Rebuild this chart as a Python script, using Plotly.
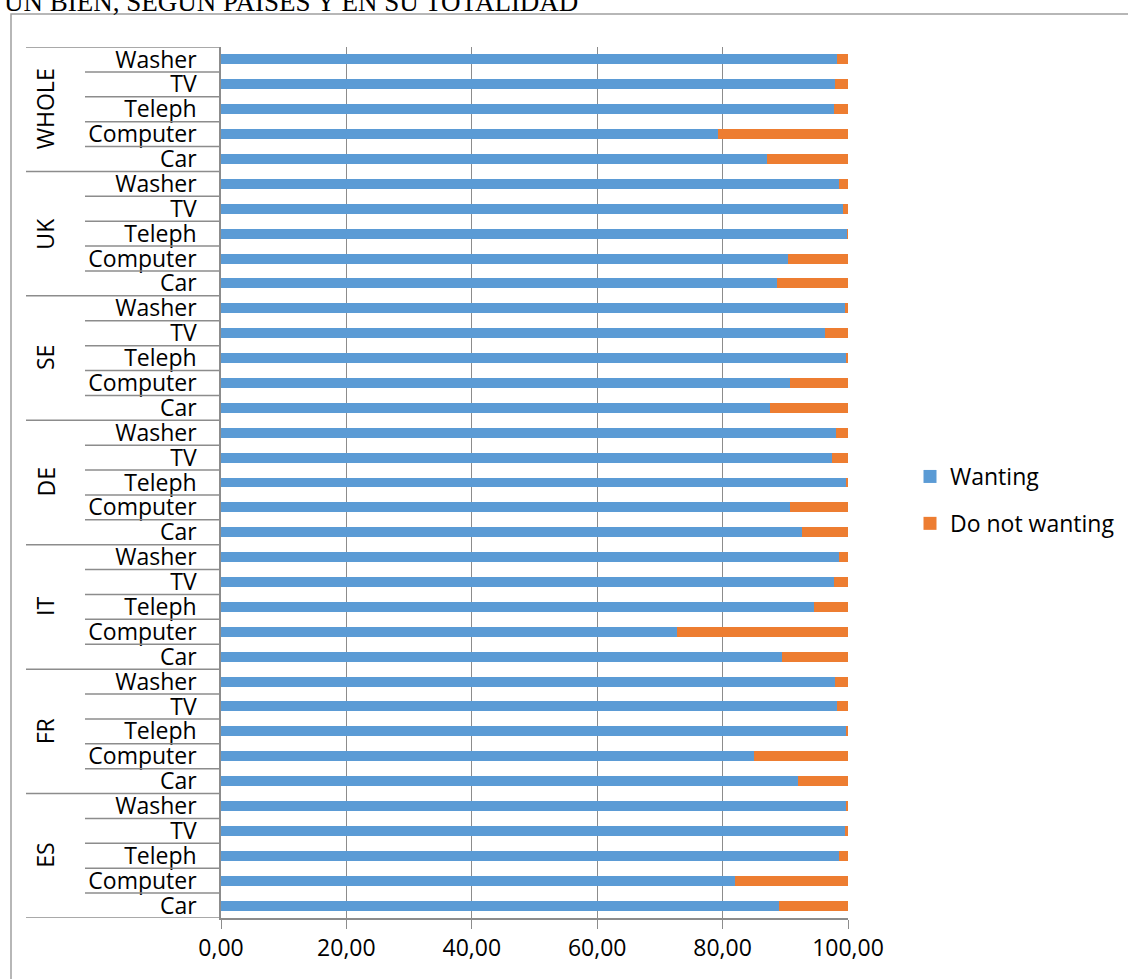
import plotly.graph_objects as go

countries = ["ES", "FR", "IT", "DE", "SE", "UK", "WHOLE"]
products = ["Car", "Computer", "Teleph", "TV", "Washer"]

wanting = {
    "ES":    [89.0, 82.0, 98.6, 99.6, 99.7],
    "FR":    [92.1, 85.0, 99.7, 98.3, 98.0],
    "IT":    [89.5, 72.7, 94.5, 97.8, 98.5],
    "DE":    [92.7, 90.8, 99.8, 97.4, 98.1],
    "SE":    [87.6, 90.8, 99.8, 96.4, 99.5],
    "UK":    [88.7, 90.5, 99.9, 99.2, 98.5],
    "WHOLE": [87.1, 79.2, 97.7, 98.0, 98.3],
}
not_wanting = {
    "ES":    [11.0, 18.0, 1.4, 0.4, 0.3],
    "FR":    [7.9, 15.0, 0.3, 1.7, 2.0],
    "IT":    [10.5, 27.3, 5.5, 2.2, 1.5],
    "DE":    [7.3, 9.2, 0.2, 2.6, 1.9],
    "SE":    [12.4, 9.2, 0.2, 3.6, 0.5],
    "UK":    [11.3, 9.5, 0.1, 0.8, 1.5],
    "WHOLE": [12.9, 20.8, 2.3, 2.0, 1.7],
}
x_ticks = [0, 20, 40, 60, 80, 100]
series_names = ["Wanting", "Do not wanting"]
title_text = "UN BIEN, SEGÚN PAÍSES Y EN SU TOTALIDAD"

W, H = 1128, 979
L, R, T, B = 221, 280, 47, 61
PW, PH = W - L - R, H - T - B


def px(xp):
    return (xp - L) / PW


def py(yp):
    return (H - B - yp) / PH


cats, ticktext, yw, yn = [], [], [], []
for c in countries:
    for i, p in enumerate(products):
        cats.append(f"{c} {p}")
        ticktext.append(p)
        yw.append(wanting[c][i])
        yn.append(not_wanting[c][i])

BLUE = "#5B9BD5"
ORANGE = "#ED7D31"
GRAY = "#8c8c8c"
FONT = "Open Sans"

fig = go.Figure()
fig.add_trace(go.Bar(y=cats, x=yw, orientation="h", name=series_names[0],
                     marker=dict(color=BLUE, line=dict(width=0)), width=0.4,
                     showlegend=False))
fig.add_trace(go.Bar(y=cats, x=yn, orientation="h", name=series_names[1],
                     marker=dict(color=ORANGE, line=dict(width=0)), width=0.4,
                     showlegend=False))
# legend entries with larger square symbols
for name, col, grp in [(series_names[0], BLUE, "a"), (series_names[1], ORANGE, "b")]:
    fig.add_trace(go.Scatter(x=[None], y=[None], mode="markers", name=name,
                             marker=dict(symbol="square", size=13, color=col),
                             legendgroup=grp, showlegend=True))

shapes = []
# chart border
shapes.append(dict(type="rect", xref="paper", yref="paper",
                   x0=px(11), x1=px(W + 20), y0=py(14), y1=py(H + 20),
                   line=dict(color="#a0a0a0", width=1.5), layer="below"))
n = len(cats)
for k in range(n + 1):
    yb = k - 0.5
    is_group = (k % len(products) == 0)
    x0 = px(26) if is_group else px(85)
    shapes.append(dict(type="line", xref="paper", yref="y", x0=x0, x1=0,
                       y0=yb, y1=yb, line=dict(color=GRAY, width=1.5)))

annotations = []
for gi, c in enumerate(countries):
    annotations.append(dict(xref="paper", yref="y", x=px(45), xanchor="center",
                            yanchor="middle",
                            y=gi * len(products) + (len(products) - 1) / 2,
                            text=c, showarrow=False, textangle=-90,
                            font=dict(family=FONT, size=23, color="black")))
annotations.append(dict(xref="paper", yref="paper", x=px(2), y=py(2),
                        xanchor="left", yanchor="middle", text=title_text,
                        showarrow=False,
                        font=dict(family="Liberation Serif", size=27, color="black")))

fig.update_layout(
    width=W, height=H,
    margin=dict(l=L, r=R, t=T, b=B, autoexpand=False),
    paper_bgcolor="white", plot_bgcolor="white",
    barmode="stack", bargap=0.6,
    separators=",.",
    font=dict(family=FONT, size=23, color="black"),
    showlegend=True,
    legend=dict(x=px(910), y=py(500), xanchor="left", yanchor="middle",
                traceorder="grouped", tracegroupgap=14, itemwidth=30,
                font=dict(family=FONT, size=23, color="black"),
                bgcolor="rgba(0,0,0,0)"),
    shapes=shapes, annotations=annotations,
)
fig.update_xaxes(range=[0, 100], tickvals=x_ticks, tickformat=".2f",
                 showgrid=True, gridcolor=GRAY, gridwidth=1,
                 ticks="outside", ticklen=9, tickcolor=GRAY,
                 showline=True, linecolor=GRAY, linewidth=1.5,
                 zeroline=False, tickfont=dict(size=23), fixedrange=True)
fig.update_yaxes(type="category", categoryorder="array", categoryarray=cats,
                 tickvals=cats, ticktext=ticktext, ticks="",
                 ticklabelstandoff=18, showline=True, linecolor=GRAY,
                 linewidth=1.5, showgrid=False, zeroline=False,
                 range=[-0.5, n - 0.5], tickfont=dict(size=23), fixedrange=True)

fig.write_html("out.html")
